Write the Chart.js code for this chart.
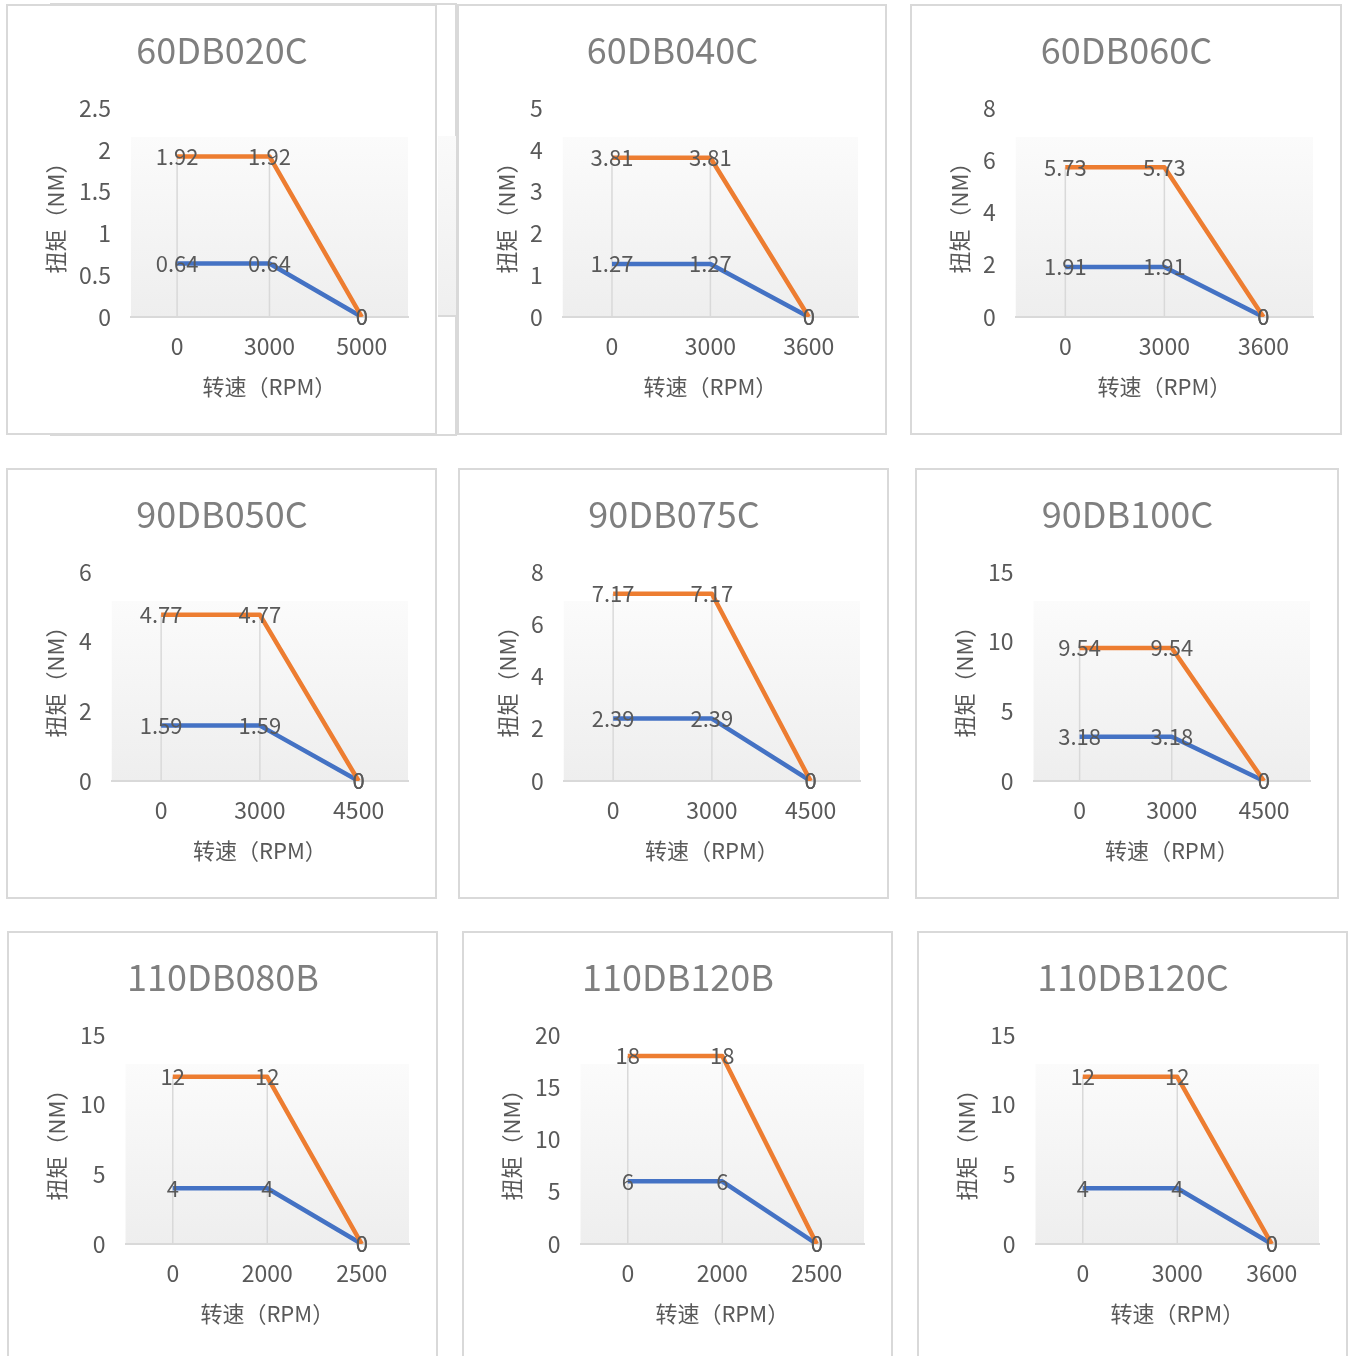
<!DOCTYPE html>
<html><head><meta charset="utf-8">
<script src="https://cdn.jsdelivr.net/npm/chart.js@4.4.1/dist/chart.umd.min.js"></script>
<style>
html,body{margin:0;padding:0;background:#fff;overflow:hidden;width:1352px;height:1356px;position:relative}
canvas{position:absolute}
#ghost{position:absolute;left:50px;top:3px;width:407px;height:433px;border:2px solid #d9d9d9;box-sizing:border-box;background:#fff}
#ghostplot{position:absolute;left:438px;top:136px;width:18px;height:179px;background:linear-gradient(#fafafa,#efefef);border-bottom:2px solid #d9d9d9}
</style></head><body>
<div id="ghost"></div><div id="ghostplot"></div>
<script>
// ---- data ----
const models = ['60DB020C','60DB040C','60DB060C','90DB050C','90DB075C','90DB100C','110DB080B','110DB120B','110DB120C'];
const speeds = [
  ['0','3000','5000'], ['0','3000','3600'], ['0','3000','3600'],
  ['0','3000','4500'], ['0','3000','4500'], ['0','3000','4500'],
  ['0','2000','2500'], ['0','2000','2500'], ['0','3000','3600']
];
const peakTorque = [
  [1.92,1.92,0], [3.81,3.81,0], [5.73,5.73,0],
  [4.77,4.77,0], [7.17,7.17,0], [9.54,9.54,0],
  [12,12,0], [18,18,0], [12,12,0]
];
const ratedTorque = [
  [0.64,0.64,0], [1.27,1.27,0], [1.91,1.91,0],
  [1.59,1.59,0], [2.39,2.39,0], [3.18,3.18,0],
  [4,4,0], [6,6,0], [4,4,0]
];
const yMax  = [2.5, 5, 8, 6, 8, 15, 15, 20, 15];
const yStep = [0.5, 1, 2, 2, 2, 5, 5, 5, 5];
const seriesNames = ['峰值扭矩', '额定扭矩'];
const xTitle = '转速（RPM）';
const yTitle = '扭矩（NM）';

// ---- layout (positions of the chart frames) ----
const boxes = [
  [6,4,431,431],[457,4,430,431],[910,4,432,431],
  [6,468,431,431],[458,468,431,431],[915,468,424,431],
  [7,931,431,431],[462,931,431,431],[917,931,431,431]
];

Chart.defaults.font.family = "'Noto Sans CJK SC', 'Noto Sans', sans-serif";

const framePlugin = {
  id: 'frame',
  beforeDraw(chart) {
    const {ctx, width, height, chartArea: a} = chart;
    ctx.save();
    ctx.fillStyle = '#fff';
    ctx.fillRect(0, 0, width, height);
    ctx.strokeStyle = '#d9d9d9';
    ctx.lineWidth = 2;
    ctx.strokeRect(1, 1, width - 2, height - 2);
    const top = a.top + 29;
    const g = ctx.createLinearGradient(0, top, 0, a.bottom);
    g.addColorStop(0, '#fbfbfb');
    g.addColorStop(1, '#eeeeee');
    ctx.fillStyle = g;
    ctx.fillRect(a.left, top, a.right - a.left, a.bottom - top);
    ctx.restore();
  }
};

const dropLinePlugin = {
  id: 'dropLines',
  beforeDatasetsDraw(chart) {
    const {ctx, scales: {x, y}} = chart;
    const n = chart.data.labels.length;
    ctx.save();
    ctx.strokeStyle = '#d9d9d9';
    ctx.lineWidth = 1.5;
    for (let i = 0; i < n; i++) {
      let m = -Infinity;
      chart.data.datasets.forEach(ds => { if (ds.data[i] > m) m = ds.data[i]; });
      if (m <= 0) continue;
      const px = x.getPixelForValue(i);
      ctx.beginPath();
      ctx.moveTo(px, y.getPixelForValue(m));
      ctx.lineTo(px, y.getPixelForValue(0));
      ctx.stroke();
    }
    ctx.restore();
  }
};

const labelPlugin = {
  id: 'pointLabels',
  afterDatasetsDraw(chart) {
    const {ctx} = chart;
    ctx.save();
    ctx.font = "22px 'Noto Sans CJK SC', sans-serif";
    ctx.fillStyle = '#595959';
    ctx.textAlign = 'center';
    ctx.textBaseline = 'middle';
    for (let d = chart.data.datasets.length - 1; d >= 0; d--) {
      const meta = chart.getDatasetMeta(d);
      meta.data.forEach((el, i) => {
        ctx.fillText(String(chart.data.datasets[d].data[i]), el.x, el.y);
      });
    }
    ctx.restore();
  }
};

models.forEach((name, k) => {
  const [bx, by, bw, bh] = boxes[k];
  const c = document.createElement('canvas');
  c.width = bw; c.height = bh;
  c.style.left = bx + 'px'; c.style.top = by + 'px';
  c.style.width = bw + 'px'; c.style.height = bh + 'px';
  document.body.appendChild(c);
  new Chart(c, {
    type: 'line',
    data: {
      labels: speeds[k],
      datasets: [
        {label: seriesNames[0], data: peakTorque[k], borderColor: '#ED7D31', backgroundColor: '#ED7D31',
         borderWidth: 4.5, pointRadius: 0, tension: 0, borderJoinStyle: 'round'},
        {label: seriesNames[1], data: ratedTorque[k], borderColor: '#4472C4', backgroundColor: '#4472C4',
         borderWidth: 4.5, pointRadius: 0, tension: 0, borderJoinStyle: 'round'}
      ]
    },
    options: {
      responsive: false,
      animation: false,
      devicePixelRatio: 1,
      layout: {padding: {left: 30, right: 29, top: 0, bottom: 35}},
      plugins: {
        legend: {display: false},
        tooltip: {enabled: false},
        title: {display: true, text: name, color: '#7f7f7f',
                font: {size: 36, weight: 'normal'}, padding: {top: 24.4, bottom: 36.4}}
      },
      scales: {
        x: {
          offset: true,
          grid: {display: false, drawTicks: false},
          border: {display: true, color: '#d9d9d9', width: 2},
          ticks: {color: '#595959', font: {size: 23}, padding: 15, maxRotation: 0},
          title: {display: true, text: xTitle, color: '#595959', font: {size: 22}, padding: {top: -1, bottom: 0}}
        },
        y: {
          min: 0, max: yMax[k],
          grid: {display: false, drawTicks: false},
          border: {display: false},
          ticks: {stepSize: yStep[k], color: '#595959', font: {size: 23}, padding: 20,
                  callback: v => String(+(+v).toFixed(4))},
          title: {display: true, text: yTitle, color: '#595959', font: {size: 22}, padding: {top: 6, bottom: -9.4}}
        }
      }
    },
    plugins: [framePlugin, dropLinePlugin, labelPlugin]
  });
});
</script>
</body></html>
